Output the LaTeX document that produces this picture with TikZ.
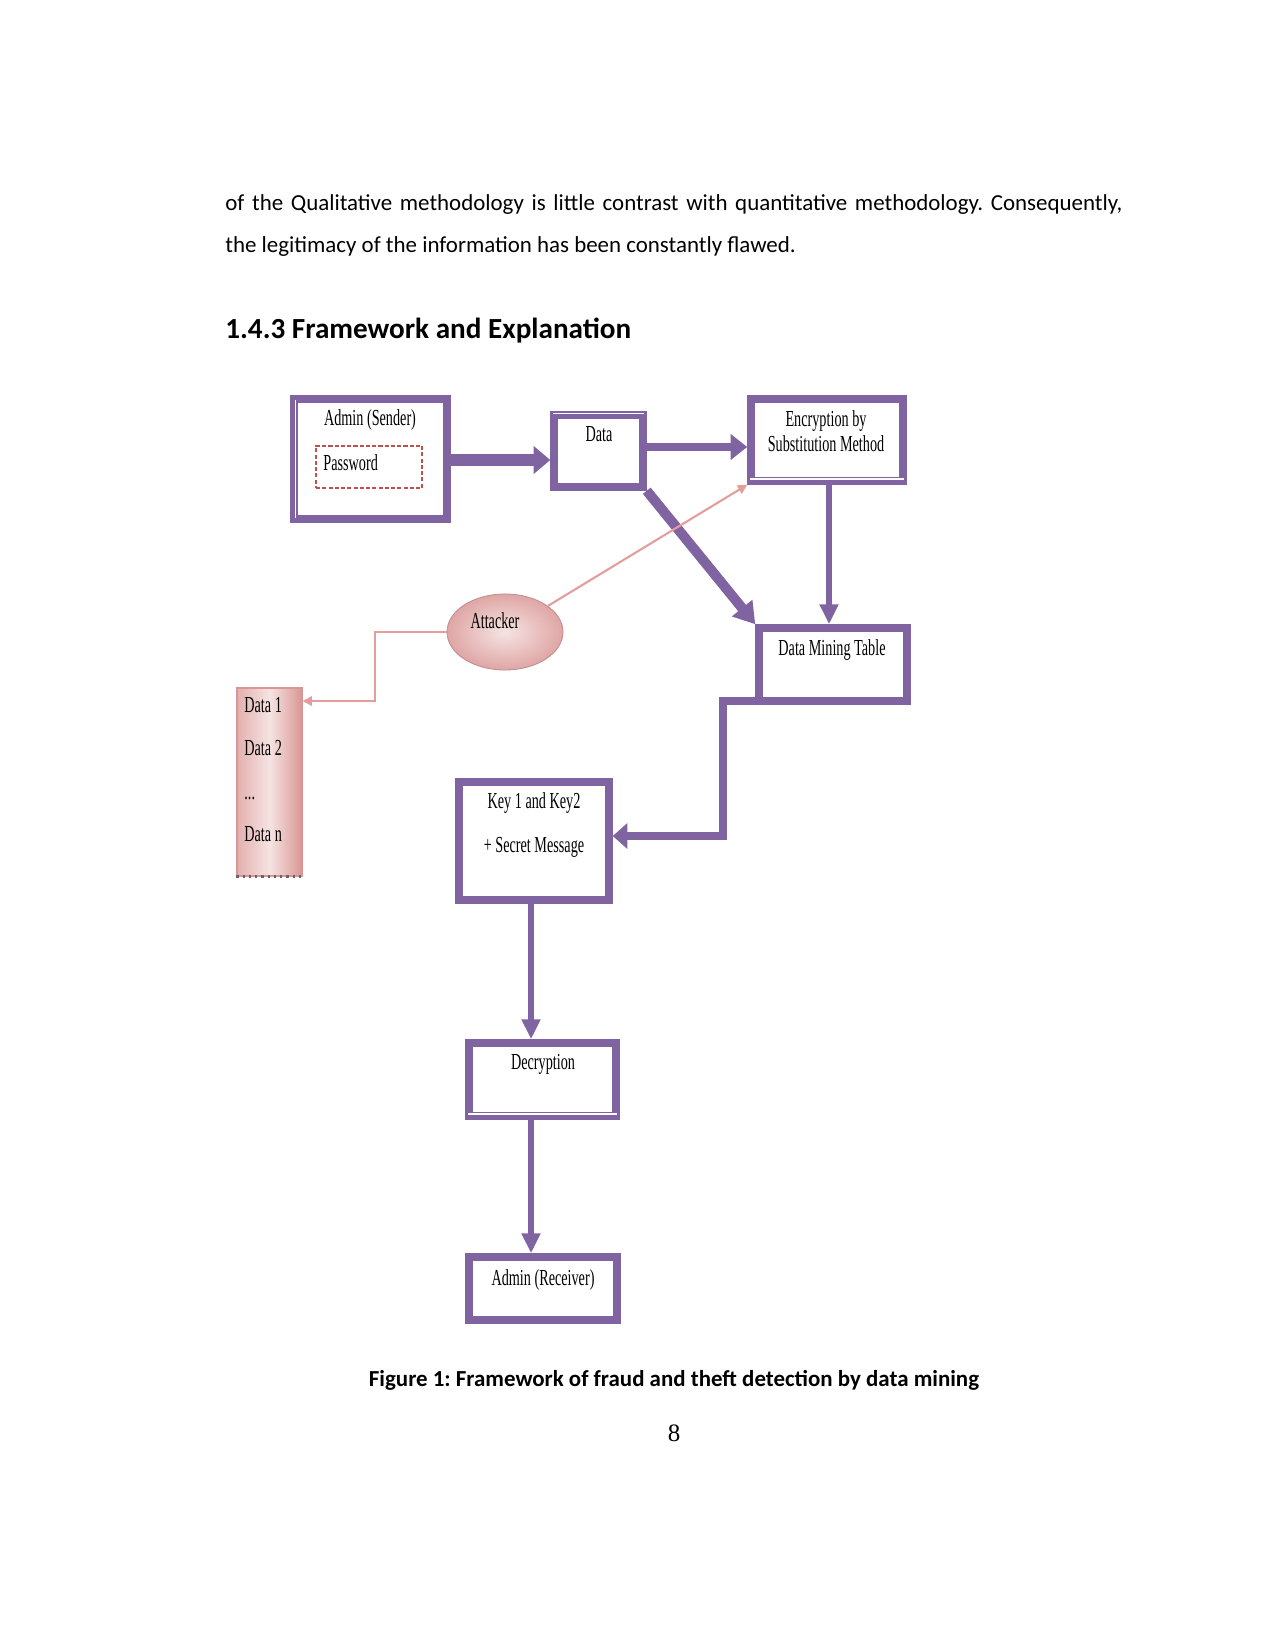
\documentclass[tikz,border=0pt]{standalone}
\usepackage{fontspec}
\setmainfont{Carlito}
\newfontfamily\dfont[FakeStretch=0.62]{Liberation Serif}
\newfontfamily\pnfont{Liberation Serif}
\usetikzlibrary{arrows.meta,fit,shapes.geometric}
\definecolor{purp}{HTML}{8064A2}
\definecolor{pinkln}{HTML}{E59C9C}
\definecolor{pinkdk}{HTML}{D99694}
\definecolor{pinklt}{HTML}{F5E4E3}
\definecolor{pwred}{HTML}{C0504D}
\frenchspacing
\begin{document}
\begin{tikzpicture}[x=0.48pt,y=-0.48pt,
  box/.style={draw=purp, line width=3.6pt, fill=white, inner sep=0pt, line join=miter},
  dbl/.style={draw=white, line width=0.6pt},
  dtext/.style={font=\dfont\fontsize{11pt}{13pt}\selectfont, inner sep=0pt, anchor=base},
  conn/.style={draw=purp, line width=#1, line join=miter},
  pinkarrow/.style={draw=pinkln, line width=1pt, -{Triangle[length=4.5pt,width=4.5pt]}},
  body/.style={font=\fontsize{11pt}{13pt}\selectfont, inner sep=0pt, anchor=base west}
]
\fill[white] (0,0) rectangle (1275,1650);
\useasboundingbox (0,0) rectangle (1275,1650);

% body text
\node[body] (l1) at (225,210.5) {\makebox[430.56pt][s]{of the Qualitative methodology is little contrast with quantitative methodology. Consequently,}};
\node[body] (l2) at (225,252.5) {the legitimacy of the information has been constantly flawed.};
\node[body, font=\bfseries\fontsize{14pt}{17pt}\selectfont] (hd) at (225,339) {1.4.3 Framework and Explanation};

% boxes
\node[box, fit={(294,399)(447,519)}] (snd) {};
\node[box, fit={(554,415)(643,487)}] (dat) {};
\node[box, fit={(751,399)(903,481)}] (enc) {};
\node[box, fit={(759,628)(907,701)}] (dmt) {};
\node[box, fit={(459,782)(609,900)}] (key) {};
\node[box, fit={(469,1043)(616,1116)}] (dec) {};
\node[box, fit={(469,1257)(617,1320)}] (rcv) {};

% double-line accents
\draw[dbl] (295.5,400) -- (295.5,518);
\draw[dbl] (553,413.5) -- (644,413.5);
\draw[dbl] (750,479) -- (904,479);
\draw[dbl] (468,1114) -- (617,1114);

% password
\node[draw=pwred, dashed, dash pattern=on 2pt off 1pt, line width=1.1pt, inner sep=0pt, fit={(316,446)(422,488)}] (pw) {};

% attacker and data column
\node[ellipse, inner sep=0pt, minimum width=55.7pt, minimum height=36.5pt, draw=pinkdk!70!gray, line width=0.4pt, inner color=pinklt, outer color=pinkdk!85] (att) at (505,632) {};
\node[draw=pinkdk, line width=0.5pt, inner sep=0pt, left color=pinkdk!75, right color=pinkdk, middle color=pinklt, fit={(237,688)(302,876)}] (col) {};
\draw[dotted, line width=1pt, black!60] (col.south west) -- (col.south east);

% texts
\node[dtext] (tsnd) at (370,426) {Admin (Sender)};
\node[dtext, anchor=base west] (tpw) at (323,470) {Password};
\node[dtext] (tdat) at (599,442) {Data};
\node[dtext] (tenc1) at (826,427) {Encryption by};
\node[dtext] (tenc2) at (826,452) {Substitution Method};
\node[dtext] (tdmt) at (832,655) {Data Mining Table};
\node[dtext] (tatt) at (495,628) {Attacker};
\node[dtext, anchor=base west] (tc1) at (244,712) {Data 1};
\node[dtext, anchor=base west] (tc2) at (244,755) {Data 2};
\node[dtext, anchor=base west] (tc3) at (244,799) {...};
\node[dtext, anchor=base west] (tc4) at (244,841) {Data n};
\node[dtext] (tkey1) at (534,808) {Key 1 and Key2};
\node[dtext] (tkey2) at (534,852) {+ Secret Message};
\node[dtext] (tdec) at (543,1069) {Decryption};
\node[dtext] (trcv) at (543,1285) {Admin (Receiver)};

% helper coordinates
\coordinate (y1) at (0,460);
\coordinate (y2) at (0,447);
\coordinate (x1) at (829,0);
\coordinate (x2) at (531,0);
\coordinate (c1) at (723,836);
\coordinate (ac) at (375,701);

% purple connectors
\draw[conn=5.3pt, -{Triangle[length=8pt,width=13pt]}] (snd.east |- y1) -- (dat.west |- y1);
\draw[conn=3.8pt, -{Triangle[length=8pt,width=12pt]}] (dat.east |- y2) -- (enc.west |- y2);
\draw[conn=4.8pt, -{Triangle[length=10pt,width=12pt]}] (dat.south east) -- (dmt.north west);
\draw[conn=2.6pt, -{Triangle[length=9.6pt,width=8.6pt]}] (enc.south -| x1) -- (dmt.north -| x1);
\draw[conn=3.6pt, -{Triangle[length=7pt,width=12pt]}] ([yshift=1.9pt]dmt.south west) -| (c1) -- (key.east |- c1);
\draw[conn=2.6pt, -{Triangle[length=9.6pt,width=8.6pt]}] (key.south -| x2) -- (dec.north -| x2);
\draw[conn=2.6pt, -{Triangle[length=9.6pt,width=8.6pt]}] (dec.south -| x2) -- (rcv.north -| x2);

% pink connectors
\draw[pinkarrow] (att) -- (enc.south west);
\draw[pinkarrow] (att.west) -| (ac) -- (col.east |- ac);

% caption and page number
\node[font=\bfseries\fontsize{11pt}{13pt}\selectfont, inner sep=0pt, anchor=base] (cap) at (674,1386) {Figure 1: Framework of fraud and theft detection by data mining};
\node[font=\pnfont\fontsize{12pt}{14pt}\selectfont, inner sep=0pt, anchor=base] (pg) at (674,1441) {8};
\end{tikzpicture}
\end{document}
